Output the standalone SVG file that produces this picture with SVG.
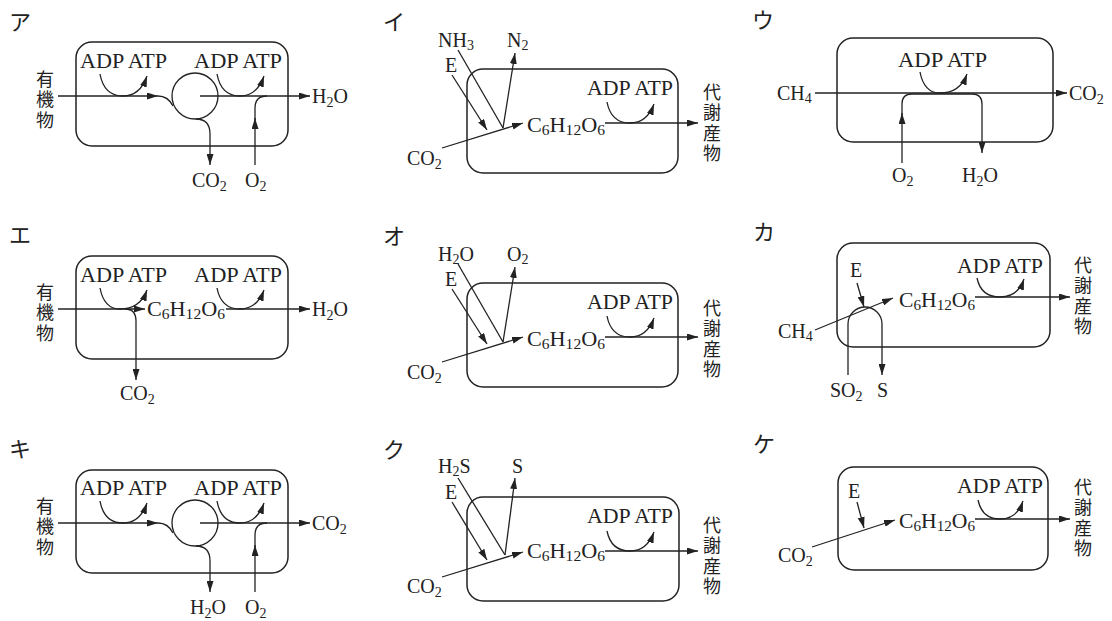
<svg xmlns="http://www.w3.org/2000/svg" width="1112" height="621" viewBox="0 0 1112 621">
<defs>
<marker id="ah" viewBox="0 0 11 7" refX="11" refY="3.5" markerWidth="11" markerHeight="7" markerUnits="userSpaceOnUse" orient="auto"><path d="M0,0 L11,3.5 L0,7 z" fill="#222"/></marker>
</defs>
<style>
.t{font-family:"Liberation Serif","Times New Roman",serif;font-size:20px;fill:#222}
.s{font-size:14px}
.j{font-family:"Noto Sans CJK JP",sans-serif;font-size:18px;fill:#222;writing-mode:vertical-rl;letter-spacing:2.5px}
.k{font-family:"Noto Sans CJK JP",sans-serif;font-size:22px;fill:#222}
.box{fill:none;stroke:#222;stroke-width:1.5}
.c path,.c circle{fill:none;stroke:#222;stroke-width:1.3}
.a{marker-end:url(#ah)}
</style>
<rect width="1112" height="621" fill="#fff"/>

<!-- ア -->
<g id="panel-a">
  <text class="k" x="9" y="30">ア</text>
  <g id="a-cell"><rect class="box" x="76" y="42" width="212" height="104" rx="16"/></g>
  <g id="a-labels">
    <text class="t" x="80" y="68" textLength="87" lengthAdjust="spacingAndGlyphs">ADP ATP</text>
    <text class="t" x="194" y="68" textLength="88" lengthAdjust="spacingAndGlyphs">ADP ATP</text>
    <text class="j" x="45" y="70">有機物</text>
    <text class="t" x="312" y="103">H<tspan class="s" dy="4">2</tspan><tspan dy="-4">O</tspan></text>
    <text class="t" x="192" y="187">CO<tspan class="s" dy="4">2</tspan></text>
    <text class="t" x="245" y="187">O<tspan class="s" dy="4">2</tspan></text>
  </g>
  <g id="a-connectors" class="c">
    <circle cx="195" cy="96" r="23"/>
    <path class="a" d="M58,96 L158,96"/>
    <path d="M158,96 Q168,96 173,106"/>
    <path class="a" d="M200,96 L310,96"/>
    <path class="a" d="M100,74 Q104,96 123,96 Q140,96 147,76"/>
    <path class="a" d="M217,74 Q221,96 240,96 Q257,96 264,76"/>
    <path class="a" d="M196,119 C205,119 210,124 210,134 L210,165"/>
    <path class="a" d="M255,165 L255,118"/>
    <path d="M255,120 L255,108 Q255,96 267,96"/>
  </g>
</g>

<!-- エ -->
<g id="panel-e" transform="translate(0,213)">
  <text class="k" x="9" y="30">エ</text>
  <g id="e-cell"><rect class="box" x="76" y="43" width="212" height="103" rx="16"/></g>
  <g id="e-labels">
    <text class="t" x="80" y="69" textLength="87" lengthAdjust="spacingAndGlyphs">ADP ATP</text>
    <text class="t" x="194" y="69" textLength="88" lengthAdjust="spacingAndGlyphs">ADP ATP</text>
    <text class="j" x="45" y="70">有機物</text>
    <text class="t" x="147" y="103" textLength="78" lengthAdjust="spacingAndGlyphs">C<tspan class="s" dy="3">6</tspan><tspan dy="-3">H</tspan><tspan class="s" dy="3">12</tspan><tspan dy="-3">O</tspan><tspan class="s" dy="3">6</tspan></text>
    <text class="t" x="312" y="103">H<tspan class="s" dy="4">2</tspan><tspan dy="-4">O</tspan></text>
    <text class="t" x="120" y="187">CO<tspan class="s" dy="4">2</tspan></text>
  </g>
  <g id="e-connectors" class="c">
    <path class="a" d="M58,96 L145,96"/>
    <path class="a" d="M226,96 L310,96"/>
    <path class="a" d="M100,75 Q104,96 120,96 Q140,96 147,77"/>
    <path class="a" d="M217,75 Q221,96 240,96 Q257,96 264,77"/>
    <path class="a" d="M125,96 Q136,96 136,108 L136,167"/>
  </g>
</g>

<!-- キ -->
<g id="panel-ki" transform="translate(0,427)">
  <text class="k" x="9" y="30">キ</text>
  <g id="ki-cell"><rect class="box" x="76" y="43" width="212" height="103" rx="16"/></g>
  <g id="ki-labels">
    <text class="t" x="80" y="68" textLength="87" lengthAdjust="spacingAndGlyphs">ADP ATP</text>
    <text class="t" x="194" y="68" textLength="88" lengthAdjust="spacingAndGlyphs">ADP ATP</text>
    <text class="j" x="45" y="70">有機物</text>
    <text class="t" x="312" y="103">CO<tspan class="s" dy="4">2</tspan></text>
    <text class="t" x="190" y="187">H<tspan class="s" dy="4">2</tspan><tspan dy="-4">O</tspan></text>
    <text class="t" x="245" y="187">O<tspan class="s" dy="4">2</tspan></text>
  </g>
  <g id="ki-connectors" class="c">
    <circle cx="195" cy="96" r="23"/>
    <path class="a" d="M58,96 L158,96"/>
    <path d="M158,96 Q168,96 173,106"/>
    <path class="a" d="M200,96 L310,96"/>
    <path class="a" d="M100,74 Q104,96 123,96 Q140,96 147,76"/>
    <path class="a" d="M217,74 Q221,96 240,96 Q257,96 264,76"/>
    <path class="a" d="M196,119 C205,119 210,124 210,134 L210,165"/>
    <path class="a" d="M255,165 L255,118"/>
    <path d="M255,120 L255,108 Q255,96 267,96"/>
  </g>
</g>

<!-- イ -->
<g id="panel-i">
  <text class="k" x="383" y="30">イ</text>
  <g id="i-cell"><rect class="box" x="467" y="69" width="211" height="104" rx="16"/></g>
  <g id="i-labels">
    <text class="t" x="438" y="47">NH<tspan class="s" dy="3">3</tspan></text>
    <text class="t" x="507" y="47">N<tspan class="s" dy="3">2</tspan></text>
    <text class="t" x="445" y="72">E</text>
    <text class="t" x="407" y="165">CO<tspan class="s" dy="4">2</tspan></text>
    <text class="t" x="527" y="132" textLength="78" lengthAdjust="spacingAndGlyphs">C<tspan class="s" dy="3">6</tspan><tspan dy="-3">H</tspan><tspan class="s" dy="3">12</tspan><tspan dy="-3">O</tspan><tspan class="s" dy="3">6</tspan></text>
    <text class="t" x="587" y="95" textLength="86" lengthAdjust="spacingAndGlyphs">ADP ATP</text>
    <text class="j" x="712" y="83">代謝産物</text>
  </g>
  <g id="i-connectors" class="c">
    <path d="M458,50 L503,128"/>
    <path class="a" d="M452,75 L487,130"/>
    <path class="a" d="M503,128 L515,53"/>
    <path class="a" d="M442,148 L523,123"/>
    <path class="a" d="M607,102 Q611,123 630,123 Q647,123 654,104"/>
    <path class="a" d="M605,123 L698,123"/>
  </g>
</g>

<!-- オ -->
<g id="panel-o" transform="translate(0,214)">
  <text class="k" x="383" y="30">オ</text>
  <g id="o-cell"><rect class="box" x="467" y="69" width="211" height="104" rx="16"/></g>
  <g id="o-labels">
    <text class="t" x="438" y="47">H<tspan class="s" dy="3">2</tspan><tspan dy="-3">O</tspan></text>
    <text class="t" x="507" y="47">O<tspan class="s" dy="3">2</tspan></text>
    <text class="t" x="445" y="72">E</text>
    <text class="t" x="407" y="165">CO<tspan class="s" dy="4">2</tspan></text>
    <text class="t" x="527" y="132" textLength="78" lengthAdjust="spacingAndGlyphs">C<tspan class="s" dy="3">6</tspan><tspan dy="-3">H</tspan><tspan class="s" dy="3">12</tspan><tspan dy="-3">O</tspan><tspan class="s" dy="3">6</tspan></text>
    <text class="t" x="587" y="95" textLength="86" lengthAdjust="spacingAndGlyphs">ADP ATP</text>
    <text class="j" x="712" y="85">代謝産物</text>
  </g>
  <g id="o-connectors" class="c">
    <path d="M458,50 L503,128"/>
    <path class="a" d="M452,75 L487,130"/>
    <path class="a" d="M503,128 L515,53"/>
    <path class="a" d="M442,148 L523,123"/>
    <path class="a" d="M607,102 Q611,123 630,123 Q647,123 654,104"/>
    <path class="a" d="M605,123 L698,123"/>
  </g>
</g>

<!-- ク -->
<g id="panel-ku" transform="translate(0,428)">
  <text class="k" x="383" y="30">ク</text>
  <g id="ku-cell"><rect class="box" x="467" y="69" width="212" height="104" rx="16"/></g>
  <g id="ku-labels">
    <text class="t" x="438" y="45">H<tspan class="s" dy="3">2</tspan><tspan dy="-3">S</tspan></text>
    <text class="t" x="512" y="45">S</text>
    <text class="t" x="445" y="71">E</text>
    <text class="t" x="407" y="165">CO<tspan class="s" dy="4">2</tspan></text>
    <text class="t" x="527" y="130" textLength="78" lengthAdjust="spacingAndGlyphs">C<tspan class="s" dy="3">6</tspan><tspan dy="-3">H</tspan><tspan class="s" dy="3">12</tspan><tspan dy="-3">O</tspan><tspan class="s" dy="3">6</tspan></text>
    <text class="t" x="587" y="95" textLength="86" lengthAdjust="spacingAndGlyphs">ADP ATP</text>
    <text class="j" x="712" y="88">代謝産物</text>
  </g>
  <g id="ku-connectors" class="c">
    <path d="M458,50 L505,127"/>
    <path class="a" d="M452,74 L487,132"/>
    <path class="a" d="M505,127 L515,50"/>
    <path class="a" d="M442,149 L523,124"/>
    <path class="a" d="M607,103 Q611,123 630,123 Q647,123 654,104"/>
    <path class="a" d="M605,123 L698,123"/>
  </g>
</g>

<!-- ウ -->
<g id="panel-u">
  <text class="k" x="752" y="28">ウ</text>
  <g id="u-cell"><rect class="box" x="837" y="38" width="216" height="104" rx="16"/></g>
  <g id="u-labels">
    <text class="t" x="898" y="67" textLength="89" lengthAdjust="spacingAndGlyphs">ADP ATP</text>
    <text class="t" x="777" y="100">CH<tspan class="s" dy="3">4</tspan></text>
    <text class="t" x="1069" y="100">CO<tspan class="s" dy="4">2</tspan></text>
    <text class="t" x="892" y="182">O<tspan class="s" dy="4">2</tspan></text>
    <text class="t" x="962" y="182">H<tspan class="s" dy="4">2</tspan><tspan dy="-4">O</tspan></text>
  </g>
  <g id="u-connectors" class="c">
    <path class="a" d="M815,93 L1067,93"/>
    <path class="a" d="M920,72 Q924,93 940,93 Q960,93 967,74"/>
    <path class="a" d="M902,163 L902,113"/>
    <path class="a" d="M902,115 L902,104 Q902,94 912,94 L972,94 Q982,94 982,104 L982,153"/>
  </g>
</g>

<!-- カ -->
<g id="panel-ka">
  <text class="k" x="753" y="240">カ</text>
  <g id="ka-cell"><rect class="box" x="837" y="243" width="213" height="104" rx="16"/></g>
  <g id="ka-labels">
    <text class="t" x="850" y="277">E</text>
    <text class="t" x="778" y="338">CH<tspan class="s" dy="3">4</tspan></text>
    <text class="t" x="899" y="307" textLength="76" lengthAdjust="spacingAndGlyphs">C<tspan class="s" dy="3">6</tspan><tspan dy="-3">H</tspan><tspan class="s" dy="3">12</tspan><tspan dy="-3">O</tspan><tspan class="s" dy="3">6</tspan></text>
    <text class="t" x="957" y="273" textLength="86" lengthAdjust="spacingAndGlyphs">ADP ATP</text>
    <text class="t" x="830" y="397">SO<tspan class="s" dy="4">2</tspan></text>
    <text class="t" x="877" y="397">S</text>
    <text class="j" x="1083" y="256">代謝産物</text>
  </g>
  <g id="ka-connectors" class="c">
    <path class="a" d="M857,283 L864,307"/>
    <path class="a" d="M815,330 L893,298"/>
    <path class="a" d="M848,375 L848,324 A17,17 0 0 1 882,324 L882,375"/>
    <path class="a" d="M977,278 Q981,297 1000,297 Q1018,297 1024,279"/>
    <path class="a" d="M975,297 L1070,297"/>
  </g>
</g>

<!-- ケ -->
<g id="panel-ke">
  <text class="k" x="753" y="452">ケ</text>
  <g id="ke-cell"><rect class="box" x="838" y="467" width="210" height="103" rx="16"/></g>
  <g id="ke-labels">
    <text class="t" x="848" y="498">E</text>
    <text class="t" x="778" y="562">CO<tspan class="s" dy="4">2</tspan></text>
    <text class="t" x="899" y="528" textLength="76" lengthAdjust="spacingAndGlyphs">C<tspan class="s" dy="3">6</tspan><tspan dy="-3">H</tspan><tspan class="s" dy="3">12</tspan><tspan dy="-3">O</tspan><tspan class="s" dy="3">6</tspan></text>
    <text class="t" x="957" y="493" textLength="86" lengthAdjust="spacingAndGlyphs">ADP ATP</text>
    <text class="j" x="1083" y="478">代謝産物</text>
  </g>
  <g id="ke-connectors" class="c">
    <path class="a" d="M857,502 L864,528"/>
    <path class="a" d="M812,547 L895,520"/>
    <path class="a" d="M978,500 Q982,519 1000,519 Q1017,519 1023,501"/>
    <path class="a" d="M975,519 L1070,519"/>
  </g>
</g>
</svg>
